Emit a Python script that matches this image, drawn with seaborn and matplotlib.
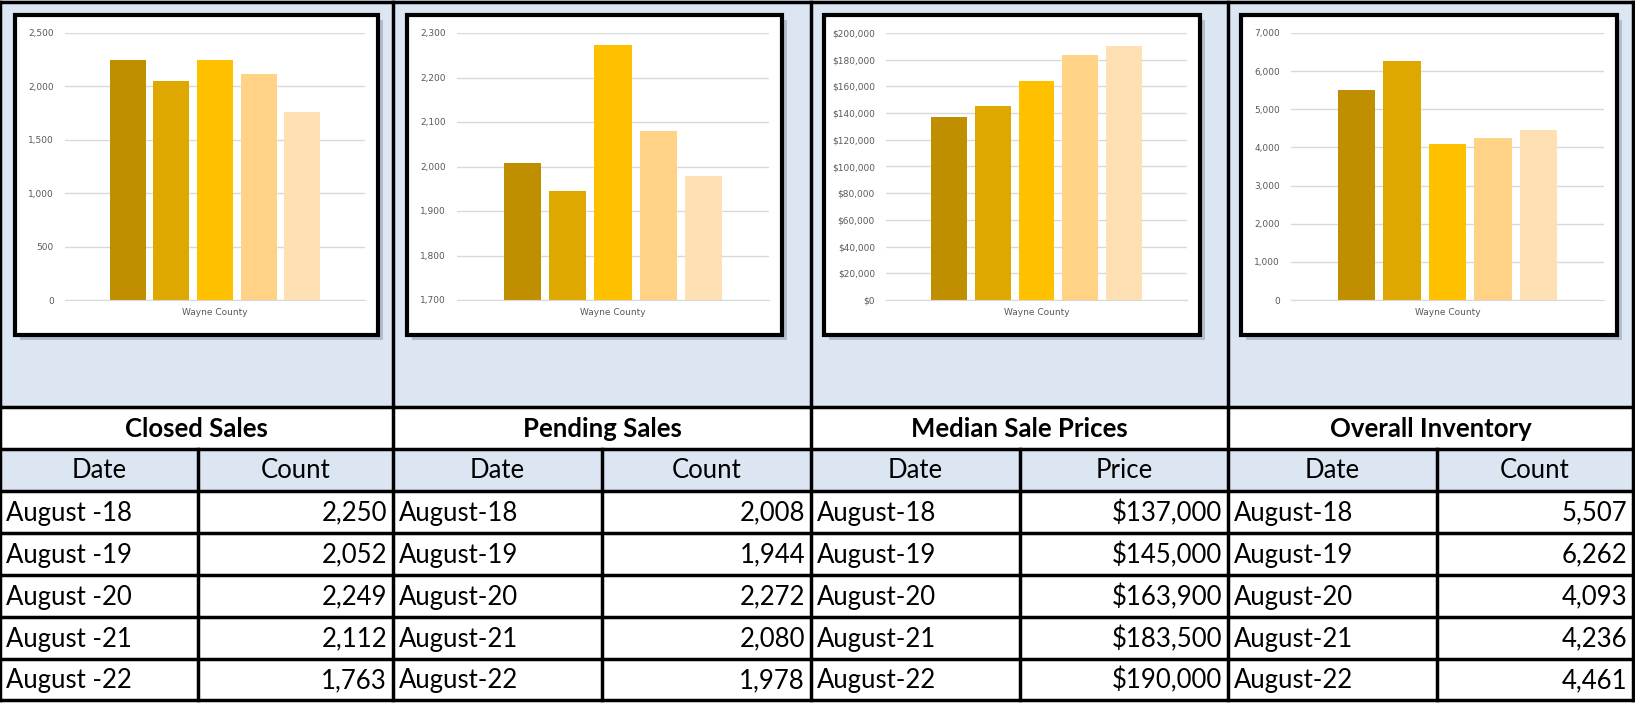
import matplotlib
matplotlib.use("Agg")
import matplotlib.pyplot as plt
import seaborn as sns
from matplotlib.patches import Rectangle
from matplotlib.ticker import FuncFormatter, MultipleLocator

years = ["August-18", "August-19", "August-20", "August-21", "August-22"]
closed_dates = ["August -18", "August -19", "August -20", "August -21", "August -22"]
closed_sales = [2250, 2052, 2249, 2112, 1763]
pending_sales = [2008, 1944, 2272, 2080, 1978]
median_prices = [137000, 145000, 163900, 183500, 190000]
inventory = [5507, 6262, 4093, 4236, 4461]
titles = ["Closed Sales", "Pending Sales", "Median Sale Prices", "Overall Inventory"]
value_headers = ["Count", "Count", "Price", "Count"]
palette = ["#BF8F00", "#DFA800", "#FFC000", "#FFD285", "#FFE0B3"]

FONT = "Lato"
W, H = 1635, 703
fig = plt.figure(figsize=(W / 100, H / 100), dpi=100)
bg = fig.add_axes([0, 0, 1, 1])
bg.set_xlim(0, W); bg.set_ylim(H, 0); bg.axis("off")

BLUE = "#DCE6F2"
top_bottom = 407
bg.add_patch(Rectangle((0, 0), W, top_bottom, fc=BLUE, ec="none"))
seps = [0, 393, 811, 1228, 1633]
splits = [198, 602, 1020, 1437]
rows = [407, 449, 491, 533, 575, 617, 659, 700]

bg.add_patch(Rectangle((0, rows[1]), W, rows[2] - rows[1], fc=BLUE, ec="none"))
lw = 2.5
for y in [2] + rows:
    bg.plot([0, 1633], [y, y], color="black", lw=lw)
for x in seps:
    bg.plot([x, x], [2, 700], color="black", lw=lw)
for x in splits:
    bg.plot([x, x], [rows[1], 700], color="black", lw=lw)

def fmt_num(v):
    return f"{v:,}"
def fmt_price(v):
    return f"${v:,}"

columns = [
    (closed_dates, [fmt_num(v) for v in closed_sales]),
    (years, [fmt_num(v) for v in pending_sales]),
    (years, [fmt_price(v) for v in median_prices]),
    (years, [fmt_num(v) for v in inventory]),
]
FS = 18.5
for i in range(4):
    x0, x1, xs = seps[i], seps[i + 1], splits[i]
    bg.text((x0 + x1) / 2, (rows[0] + rows[1]) / 2 + 1, titles[i], ha="center", va="center",
            fontsize=FS, fontweight="bold", family=FONT)
    bg.text((x0 + xs) / 2, (rows[1] + rows[2]) / 2 + 1, "Date", ha="center", va="center",
            fontsize=FS, family=FONT)
    bg.text((xs + x1) / 2, (rows[1] + rows[2]) / 2 + 1, value_headers[i], ha="center", va="center",
            fontsize=FS, family=FONT)
    dates, vals = columns[i]
    for r in range(5):
        yc = (rows[2 + r] + rows[3 + r]) / 2 + 1
        bg.text(x0 + 6, yc, dates[r], ha="left", va="center", fontsize=FS, family=FONT)
        bg.text(x1 - 6, yc, vals[r], ha="right", va="center", fontsize=FS, family=FONT)

boxes = [(15, 378), (407, 782), (824, 1200), (1241, 1617)]
by0, by1 = 15, 335
datasets = [closed_sales, pending_sales, median_prices, inventory]
ylims = [(0, 2500, 500), (1700, 2300, 100), (0, 200000, 20000), (0, 7000, 1000)]
for i, (bx0, bx1) in enumerate(boxes):
    bg.add_patch(Rectangle((bx0 + 5, by0 + 5), bx1 - bx0, by1 - by0, fc="#8A97A8", ec="none", alpha=0.5))
    bg.add_patch(Rectangle((bx0, by0), bx1 - bx0, by1 - by0, fc="white", ec="black", lw=3))
    ax0 = bx0 + (62 if i == 2 else 50); ax1 = bx1 - 13
    ay0 = by0 + 18; ay1 = by0 + 285
    ax = fig.add_axes([ax0 / W, 1 - ay1 / H, (ax1 - ax0) / W, (ay1 - ay0) / H])
    sns.barplot(x=["Wayne County"] * 5, y=datasets[i], hue=years, palette=palette,
                legend=False, ax=ax, gap=0.18, saturation=1)
    lo, hi, step = ylims[i]
    ax.set_ylim(lo, hi)
    ax.set_xlim(-0.55, 0.55)
    ax.yaxis.set_major_locator(MultipleLocator(step))
    if i == 2:
        ax.yaxis.set_major_formatter(FuncFormatter(lambda v, p: f"${v:,.0f}"))
    else:
        ax.yaxis.set_major_formatter(FuncFormatter(lambda v, p: f"{v:,.0f}"))
    ax.grid(axis="y", color="#D9D9D9", lw=1)
    ax.set_axisbelow(True)
    for s in ["top", "right", "left"]:
        ax.spines[s].set_visible(False)
    ax.spines["bottom"].set_color("#D9D9D9")
    ax.tick_params(axis="y", length=0, labelsize=6.5, labelcolor="#595959", pad=8)
    ax.tick_params(axis="x", length=0, labelsize=6.5, labelcolor="#595959", pad=6)
    ax.set_ylabel(""); ax.set_xlabel("")
    ax.set_facecolor("white")

fig.savefig("out.png", dpi=100)
